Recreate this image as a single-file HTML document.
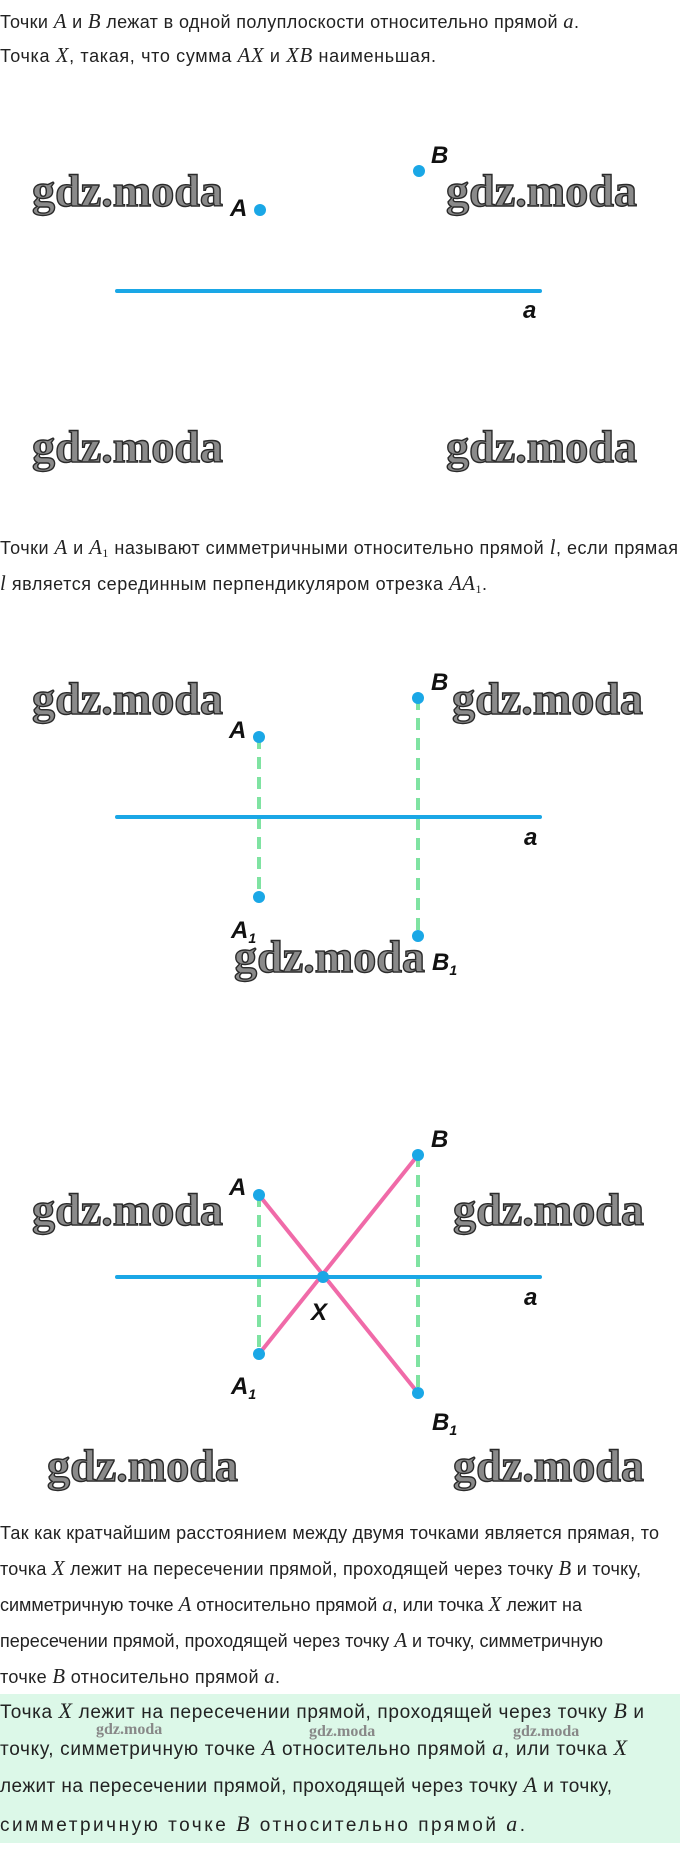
<!DOCTYPE html>
<html><head><meta charset="utf-8"><style>
html,body{margin:0;padding:0;background:#fff;}
svg{display:block;}
.t{font-family:"Liberation Sans",sans-serif;fill:#222;}
.m{font-family:"Liberation Serif",serif;font-style:italic;font-size:1.15em;}
.wm{font-family:"Liberation Serif",serif;font-weight:bold;fill:#8a8a8a;stroke:#2a2a2a;stroke-width:1.4;font-size:46px;}
.ws{font-family:"Liberation Serif",serif;font-weight:bold;fill:#888;font-size:16px;}
.lb{font-family:"Liberation Sans",sans-serif;font-style:italic;font-weight:bold;fill:#111;font-size:24px;}
.sb{font-size:14px;}
</style></head><body>
<svg width="680" height="1872" viewBox="0 0 680 1872" xmlns="http://www.w3.org/2000/svg">
<text class="t" x="0" y="28" font-size="18" textLength="579" lengthAdjust="spacing">Точки <tspan class="m">A</tspan> и <tspan class="m">B</tspan> лежат в одной полуплоскости относительно прямой <tspan class="m">a</tspan>.</text>
<text class="t" x="0" y="62" font-size="18" textLength="436" lengthAdjust="spacing">Точка <tspan class="m">X</tspan>, такая, что сумма <tspan class="m">AX</tspan> и <tspan class="m">XB</tspan> наименьшая.</text>

<text class="wm" x="32" y="206" textLength="191" lengthAdjust="spacingAndGlyphs">gdz.moda</text>
<text class="wm" x="446" y="206" textLength="191" lengthAdjust="spacingAndGlyphs">gdz.moda</text>
<text class="wm" x="32" y="462" textLength="191" lengthAdjust="spacingAndGlyphs">gdz.moda</text>
<text class="wm" x="446" y="462" textLength="191" lengthAdjust="spacingAndGlyphs">gdz.moda</text>
<line x1="117" y1="291" x2="540" y2="291" stroke="#1aa7e6" stroke-width="4" stroke-linecap="round"/>
<circle cx="260" cy="210" r="6" fill="#1aa7e6"/>
<circle cx="419" cy="171" r="6" fill="#1aa7e6"/>
<text class="lb" x="230" y="216">A</text>
<text class="lb" x="431" y="163">B</text>
<text class="lb" x="523" y="318">a</text>

<text class="t" x="0" y="554" font-size="18" textLength="678" lengthAdjust="spacing">Точки <tspan class="m">A</tspan> и <tspan class="m">A</tspan><tspan font-family="Liberation Serif" font-size="12" dy="3">1</tspan><tspan dy="-3"> называют симметричными относительно прямой </tspan><tspan class="m">l</tspan>, если прямая</text>
<text class="t" x="0" y="590" font-size="18" textLength="487" lengthAdjust="spacing"><tspan class="m">l</tspan> является серединным перпендикуляром отрезка <tspan class="m">AA</tspan><tspan font-family="Liberation Serif" font-size="12" dy="3">1</tspan><tspan dy="-3">.</tspan></text>

<text class="wm" x="32" y="714" textLength="191" lengthAdjust="spacingAndGlyphs">gdz.moda</text>
<text class="wm" x="452" y="714" textLength="191" lengthAdjust="spacingAndGlyphs">gdz.moda</text>
<text class="wm" x="234" y="972" textLength="191" lengthAdjust="spacingAndGlyphs">gdz.moda</text>
<line x1="259" y1="737" x2="259" y2="897" stroke="#7fe3a2" stroke-width="4" stroke-dasharray="12,8"/>
<line x1="418" y1="698" x2="418" y2="936" stroke="#7fe3a2" stroke-width="4" stroke-dasharray="12,8"/>
<line x1="117" y1="817" x2="540" y2="817" stroke="#1aa7e6" stroke-width="4" stroke-linecap="round"/>
<circle cx="259" cy="737" r="6" fill="#1aa7e6"/>
<circle cx="259" cy="897" r="6" fill="#1aa7e6"/>
<circle cx="418" cy="698" r="6" fill="#1aa7e6"/>
<circle cx="418" cy="936" r="6" fill="#1aa7e6"/>
<text class="lb" x="229" y="738">A</text>
<text class="lb" x="431" y="690">B</text>
<text class="lb" x="231" y="938">A<tspan class="sb" dy="5">1</tspan></text>
<text class="lb" x="432" y="970">B<tspan class="sb" dy="5">1</tspan></text>
<text class="lb" x="524" y="845">a</text>

<text class="wm" x="32" y="1225" textLength="191" lengthAdjust="spacingAndGlyphs">gdz.moda</text>
<text class="wm" x="453" y="1225" textLength="191" lengthAdjust="spacingAndGlyphs">gdz.moda</text>
<text class="wm" x="47" y="1481" textLength="191" lengthAdjust="spacingAndGlyphs">gdz.moda</text>
<text class="wm" x="453" y="1481" textLength="191" lengthAdjust="spacingAndGlyphs">gdz.moda</text>
<line x1="259" y1="1195" x2="259" y2="1354" stroke="#7fe3a2" stroke-width="4" stroke-dasharray="12,8"/>
<line x1="418" y1="1155" x2="418" y2="1393" stroke="#7fe3a2" stroke-width="4" stroke-dasharray="12,8"/>
<line x1="117" y1="1277" x2="540" y2="1277" stroke="#1aa7e6" stroke-width="4" stroke-linecap="round"/>
<line x1="259" y1="1195" x2="418" y2="1393" stroke="#f06aa8" stroke-width="4"/>
<line x1="259" y1="1354" x2="418" y2="1155" stroke="#f06aa8" stroke-width="4"/>
<circle cx="259" cy="1195" r="6" fill="#1aa7e6"/>
<circle cx="259" cy="1354" r="6" fill="#1aa7e6"/>
<circle cx="418" cy="1155" r="6" fill="#1aa7e6"/>
<circle cx="418" cy="1393" r="6" fill="#1aa7e6"/>
<circle cx="323" cy="1277" r="6" fill="#1aa7e6"/>
<text class="lb" x="229" y="1195">A</text>
<text class="lb" x="431" y="1147">B</text>
<text class="lb" x="311" y="1320">X</text>
<text class="lb" x="231" y="1394">A<tspan class="sb" dy="5">1</tspan></text>
<text class="lb" x="432" y="1430">B<tspan class="sb" dy="5">1</tspan></text>
<text class="lb" x="524" y="1305">a</text>

<g class="t" font-size="18">
<text x="0" y="1539" textLength="659" lengthAdjust="spacing">Так как кратчайшим расстоянием между двумя точками является прямая, то</text>
<text x="0" y="1575" textLength="641" lengthAdjust="spacing">точка <tspan class="m">X</tspan> лежит на пересечении прямой, проходящей через точку <tspan class="m">B</tspan> и точку,</text>
<text x="0" y="1611" textLength="582" lengthAdjust="spacing">симметричную точке <tspan class="m">A</tspan> относительно прямой <tspan class="m">a</tspan>, или точка <tspan class="m">X</tspan> лежит на</text>
<text x="0" y="1647" textLength="603" lengthAdjust="spacing">пересечении прямой, проходящей через точку <tspan class="m">A</tspan> и точку, симметричную</text>
<text x="0" y="1683" textLength="280" lengthAdjust="spacing">точке <tspan class="m">B</tspan> относительно прямой <tspan class="m">a</tspan>.</text>
</g>
<rect x="0" y="1694" width="680" height="149" fill="#dcf8e8"/>
<text class="ws" x="96" y="1734">gdz.moda</text>
<text class="ws" x="309" y="1736">gdz.moda</text>
<text class="ws" x="513" y="1736">gdz.moda</text>
<g class="t" font-size="19">
<text x="0" y="1718" textLength="644" lengthAdjust="spacing">Точка <tspan class="m">X</tspan> лежит на пересечении прямой, проходящей через точку <tspan class="m">B</tspan> и</text>
<text x="0" y="1755" textLength="627" lengthAdjust="spacing">точку, симметричную точке <tspan class="m">A</tspan> относительно прямой <tspan class="m">a</tspan>, или точка <tspan class="m">X</tspan></text>
<text x="0" y="1792" textLength="612" lengthAdjust="spacing">лежит на пересечении прямой, проходящей через точку <tspan class="m">A</tspan> и точку,</text>
<text x="0" y="1831" textLength="525" lengthAdjust="spacing">симметричную точке <tspan class="m">B</tspan> относительно прямой <tspan class="m">a</tspan>.</text>
</g>
</svg>
</body></html>
